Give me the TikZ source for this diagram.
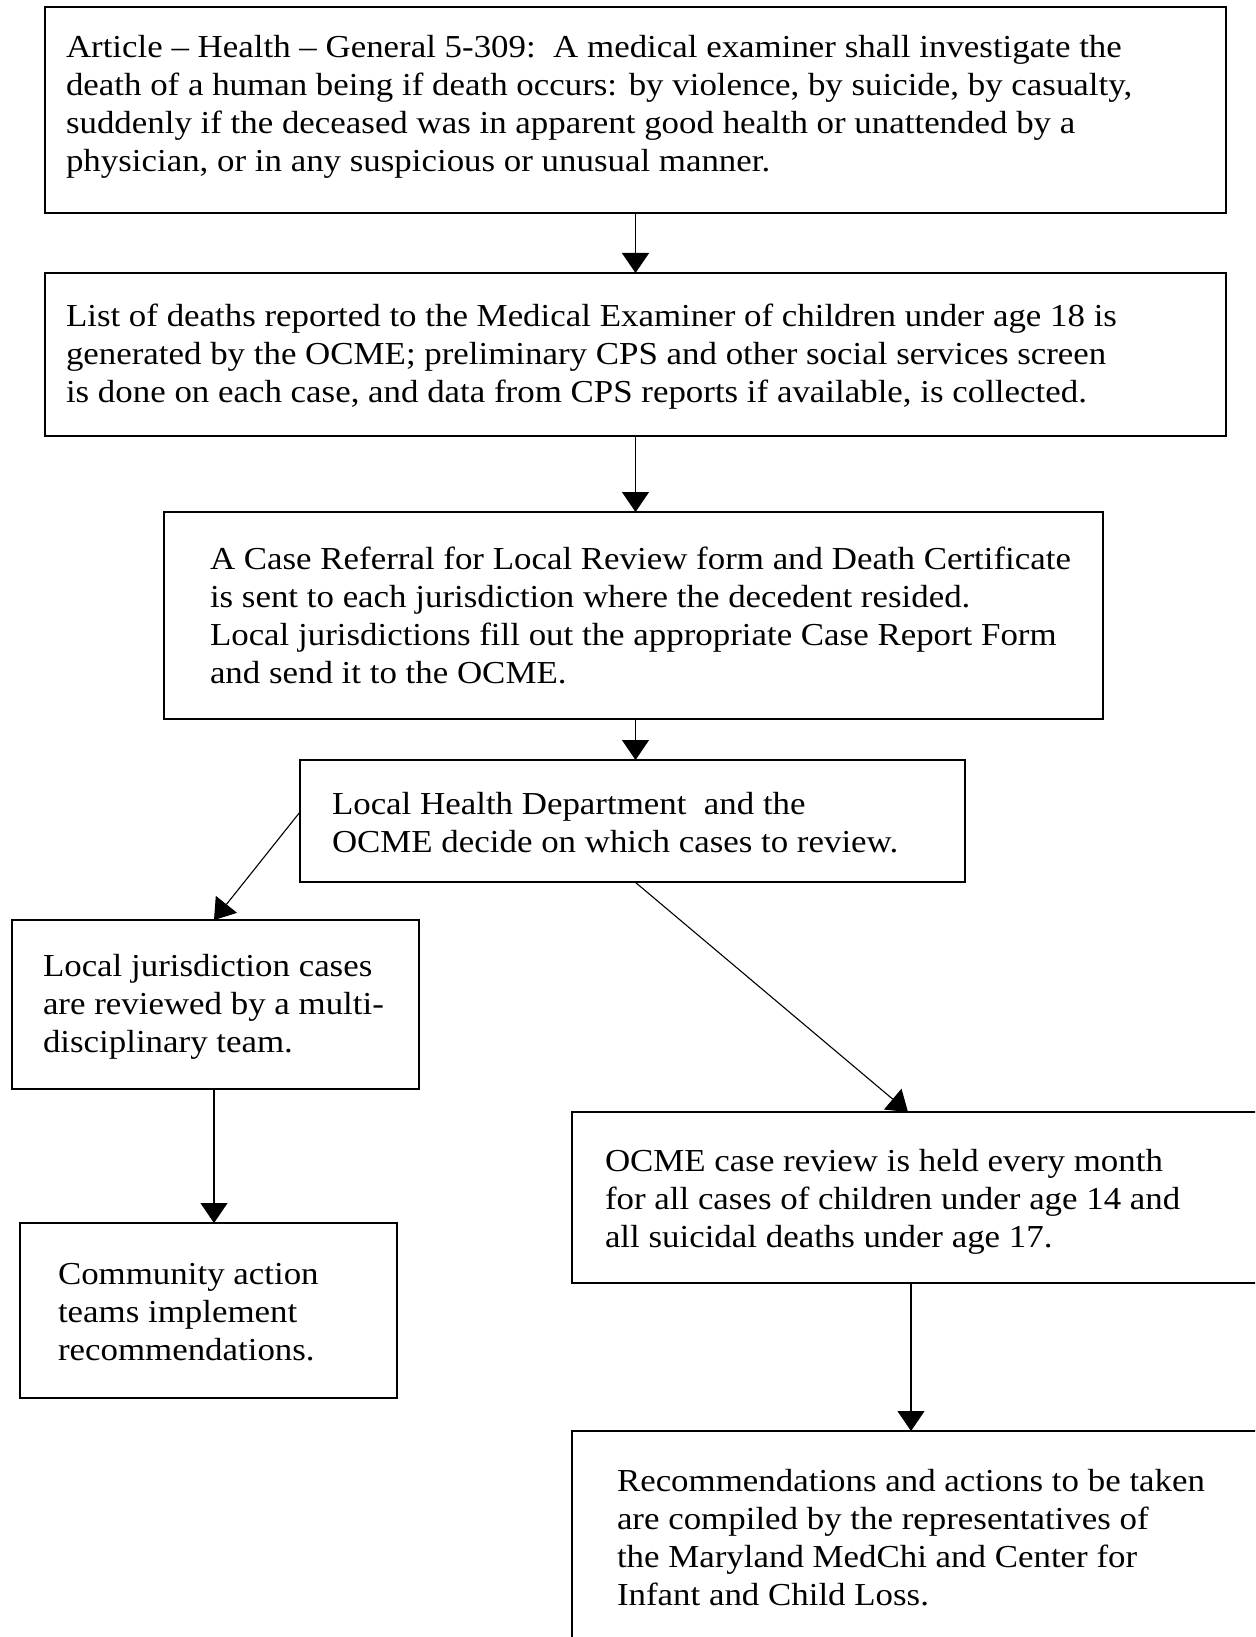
\documentclass[tikz,border=0pt]{standalone}
\usepackage{fontspec}
\setmainfont{Liberation Serif}[FakeStretch=1.09]
\usetikzlibrary{fit,arrows.meta,calc}
\newcommand\mlines[1]{\vtop{\let\\\cr\halign{##\hfil\cr#1\crcr}}}
\begin{document}
\begin{tikzpicture}[x=0.5pt,y=-0.5pt,
  box/.style={draw=black,line width=0.55pt,inner sep=0pt,outer sep=0pt},
  txt/.style={inner sep=0pt,outer sep=0pt,anchor=base west,
    font=\fontsize{16}{19}\selectfont},
  arr/.style={draw=black,line width=0.55pt,-{Triangle[length=10pt,width=13.5pt]}}]
\useasboundingbox (0,0) rectangle (1255,1637);
\clip (0,0) rectangle (1255,1637);
% boxes
\node[box,fit={(45,7) (1226,213)}] (b1) {};
\node[box,fit={(45,273) (1226,436)}] (b2) {};
\node[box,fit={(164,512) (1103,719)}] (b3) {};
\node[box,fit={(300,760) (965,882)}] (b4) {};
\node[box,fit={(12,920) (419,1089)}] (b5) {};
\node[box,fit={(572,1112) (1270,1283)}] (b6) {};
\node[box,fit={(20,1223) (397,1398)}] (b7) {};
\node[box,fit={(572,1431) (1270,1660)}] (b8) {};
% texts
\node[txt] (t1) at (66,58) {\mlines{Article – Health – General 5-309:\ \ A medical examiner shall investigate the\\
death of a human being if death occurs: by violence, by suicide, by casualty,\\
suddenly if the deceased was in apparent good health or unattended by a\\
physician, or in any suspicious or unusual manner.}};
\node[txt] (t2) at (66,326) {\mlines{List of deaths reported to the Medical Examiner of children under age 18 is\\
generated by the OCME; preliminary CPS and other social services screen\\
is done on each case, and data from CPS reports if available, is collected.}};
\node[txt] (t3) at (210,569) {\mlines{A Case Referral for Local Review form and Death Certificate\\
is sent to each jurisdiction where the decedent resided.\\
Local jurisdictions fill out the appropriate Case Report Form\\
and send it to the OCME.}};
\node[txt] (t4) at (332,814) {\mlines{Local Health Department\ \ and the\\
OCME decide on which cases to review.}};
\node[txt] (t5) at (43,976) {\mlines{Local jurisdiction cases\\
are reviewed by a multi-\\
disciplinary team.}};
\node[txt] (t6) at (605,1171) {\mlines{OCME case review is held every month\\
for all cases of children under age 14 and\\
all suicidal deaths under age 17.}};
\node[txt] (t7) at (58,1284) {\mlines{Community action\\
teams implement\\
recommendations.}};
\node[txt] (t8) at (617,1491) {\mlines{Recommendations and actions to be taken\\
are compiled by the representatives of\\
the Maryland MedChi and Center for\\
Infant and Child Loss.}};
% connector end points
\coordinate (s45) at ($(b4.north west)+(0,52)$);
\coordinate (e45) at ($(b5.north west)+(202,0)$);
\coordinate (s46) at ($(b4.south west)+(335,0)$);
\coordinate (e46) at ($(b6.north west)+(336,0)$);
\coordinate (s57) at ($(b5.south west)+(202,0)$);
\coordinate (s68) at ($(b6.south west)+(339,0)$);
% connectors
\draw[arr] (b1.south) -- (b1.south |- b2.north);
\draw[arr] (b2.south) -- (b2.south |- b3.north);
\draw[arr] (b2.south |- b3.south) -- (b2.south |- b4.north);
\draw[arr] (s45) -- (e45);
\draw[arr] (s46) -- (e46);
\draw[arr] (s57) -- (s57 |- b7.north);
\draw[arr] (s68) -- (s68 |- b8.north);
\end{tikzpicture}
\end{document}
